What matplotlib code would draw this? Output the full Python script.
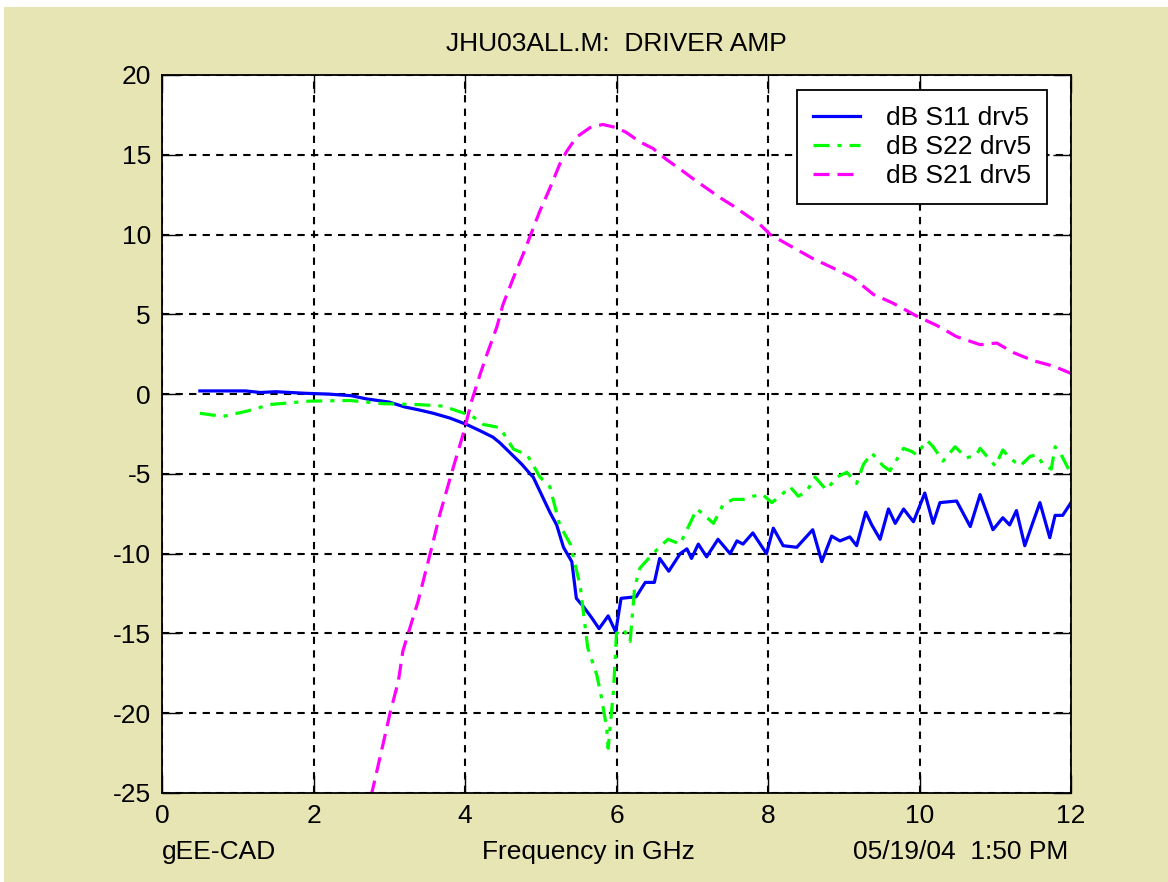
import matplotlib
matplotlib.use("Agg")
import matplotlib.pyplot as plt
from matplotlib.patches import Rectangle

plt.rcParams['font.family'] = ['Liberation Sans', 'DejaVu Sans']
plt.rcParams['axes.unicode_minus'] = False

# dB S11 drv5
s11_freq = [0.5, 0.8, 1.1, 1.3, 1.5, 1.7, 1.9, 2.2, 2.5, 2.7, 3.0, 3.2, 3.4, 3.58, 3.8,
            4.02, 4.2, 4.37, 4.46, 4.6, 4.75, 4.86, 4.9, 5.03, 5.12, 5.21, 5.3, 5.41, 5.47,
            5.56, 5.67, 5.77, 5.89, 5.99, 6.06, 6.26, 6.38, 6.5, 6.57, 6.69, 6.84, 6.93,
            6.99, 7.08, 7.19, 7.34, 7.5, 7.59, 7.67, 7.8, 7.98, 8.07, 8.2, 8.38, 8.59, 8.71,
            8.84, 8.95, 9.08, 9.17, 9.29, 9.37, 9.48, 9.59, 9.68, 9.79, 9.92, 10.07, 10.18,
            10.27, 10.49, 10.67, 10.8, 10.97, 11.1, 11.19, 11.28, 11.39, 11.5, 11.59, 11.72,
            11.79, 11.89, 12.0]
s11_db = [0.2, 0.2, 0.2, 0.1, 0.15, 0.1, 0.05, 0.0, -0.1, -0.3, -0.5, -0.8, -1.0, -1.2, -1.5,
          -1.9, -2.3, -2.7, -3.05, -3.7, -4.4, -5.0, -5.2, -6.5, -7.4, -8.2, -9.6, -10.5, -12.8,
          -13.3, -14.0, -14.7, -13.9, -14.9, -12.8, -12.7, -11.8, -11.8, -10.3, -11.1, -10.0, -9.7,
          -10.3, -9.4, -10.2, -9.1, -10.0, -9.2, -9.4, -8.7, -10.0, -8.4, -9.5, -9.6, -8.5, -10.5,
          -8.9, -9.2, -8.95, -9.5, -7.4, -8.2, -9.1, -7.2, -8.1, -7.2, -8.0, -6.2, -8.1,
          -6.8, -6.7, -8.3, -6.3, -8.5, -7.75, -8.2, -7.3, -9.5, -8.0, -6.8, -9.0,
          -7.6, -7.6, -6.8]

# dB S22 drv5
s22_freq = [0.5, 0.8, 1.12, 1.43, 1.95, 2.48, 2.92, 3.36, 3.71, 3.97, 4.1, 4.24, 4.46, 4.64,
            4.82, 4.99, 5.12, 5.25, 5.39, 5.52, 5.62, 5.74, 5.8, 5.87, 5.89, 5.96, 6.0, 6.09,
            6.18, 6.24, 6.31, 6.48, 6.61, 6.68, 6.84, 6.97, 7.06, 7.14, 7.28, 7.41, 7.54, 7.67,
            7.8, 7.93, 8.05, 8.16, 8.29, 8.4, 8.51, 8.62, 8.77, 8.91, 9.04, 9.17, 9.26, 9.37,
            9.52, 9.61, 9.79, 9.9, 9.96, 10.1, 10.18, 10.31, 10.47, 10.62, 10.75, 10.8, 10.89,
            11.0, 11.1, 11.19, 11.33, 11.46, 11.55, 11.63, 11.74, 11.79, 11.87, 12.0]
s22_db = [-1.2, -1.4, -1.07, -0.65, -0.44, -0.4, -0.6, -0.65, -0.75, -1.17, -1.4, -1.9, -2.1, -3.45,
          -3.8, -5.2, -5.8, -8.2, -9.4, -12.0, -15.9, -17.6, -19.0, -20.9, -22.2, -18.6, -15.0, -14.7,
          -15.5, -12.1, -10.9, -10.0, -9.4, -9.1, -9.4, -8.1, -7.2, -7.5, -8.1, -6.9, -6.6, -6.6,
          -6.4, -6.3, -6.8, -6.4, -5.8, -6.4, -6.1, -5.2, -6.0, -5.2, -4.9, -5.6, -4.4, -3.7,
          -4.5, -4.8, -3.4, -3.6, -3.8, -2.9, -3.3, -4.2, -3.3, -4.0, -3.8, -3.4, -3.9,
          -4.5, -3.5, -4.0, -4.5, -3.9, -3.8, -4.4, -4.7, -3.3, -3.8, -5.0]

# dB S21 drv5
s21_freq = [2.76, 2.92, 3.01, 3.12, 3.18, 3.25, 3.38, 3.54, 3.67, 3.82, 3.97, 4.09, 4.2, 4.29,
            4.42, 4.5, 4.64, 4.77, 4.86, 4.99, 5.12, 5.25, 5.34, 5.47, 5.65, 5.82, 6.0, 6.13,
            6.31, 6.48, 6.66, 6.84, 7.01, 7.19, 7.37, 7.54, 7.72, 7.89, 8.03, 8.29, 8.59, 8.86,
            9.12, 9.39, 9.65, 9.96, 10.23, 10.49, 10.8, 11.02, 11.24, 11.5, 11.77, 12.0]
s21_db = [-25.2, -21.9, -20.0, -18.0, -16.1, -15.0, -13.0, -10.0, -7.5, -5.0, -2.6, -0.4, 1.25, 2.5,
          4.2, 5.6, 7.3, 8.8, 9.9, 11.5, 12.9, 14.4, 15.2, 16.1, 16.7, 16.9, 16.7, 16.4,
          15.8, 15.4, 14.7, 14.1, 13.5, 12.9, 12.3, 11.8, 11.2, 10.65, 10.0, 9.3, 8.5, 7.9,
          7.3, 6.25, 5.7, 4.9, 4.3, 3.6, 3.1, 3.2, 2.6, 2.1, 1.75, 1.3]

x_ticks = [0, 2, 4, 6, 8, 10, 12]
y_ticks = [-25, -20, -15, -10, -5, 0, 5, 10, 15, 20]

W, H = 1168, 882
beige = '#e8e5b4'
fs = 19
fig = plt.figure(figsize=(W / 100, H / 100), dpi=100, facecolor=beige)

# thin white border strips along top and left edge
fig.patches.append(Rectangle((0, 1 - 7 / H), 1, 7 / H, transform=fig.transFigure,
                             facecolor='white', edgecolor='none'))
fig.patches.append(Rectangle((0, 0), 4 / W, 1, transform=fig.transFigure,
                             facecolor='white', edgecolor='none'))

ax = fig.add_axes([162 / W, 1 - 793 / H, (1071 - 162) / W, (793 - 75) / H])
ax.set_facecolor('white')

ax.plot(s11_freq, s11_db, color='#0000ff', lw=2.3, ls='-', label='dB S11 drv5')
ax.plot(s22_freq, s22_db, color='#00ff00', lw=2.3, ls=(0, (5, 2.5, 1.3, 2.5)), label='dB S22 drv5')
ax.plot(s21_freq, s21_db, color='#ff00ff', lw=2.3, ls=(0, (5, 2.5)), label='dB S21 drv5')

ax.set_xlim(0, 12)
ax.set_ylim(-25, 20)
ax.set_xticks(x_ticks)
ax.set_yticks(y_ticks)
ax.tick_params(direction='in', length=13, width=1, top=True, right=True,
               labelsize=fs, pad=8, colors='black')
ax.grid(True, color='black', ls=(0, (3.5, 3)), lw=1.5)
for sp in ax.spines.values():
    sp.set_linewidth(1.3)

ax.set_title('JHU03ALL.M:  DRIVER AMP', fontsize=fs, pad=17)

leg = ax.legend(loc='upper right', bbox_to_anchor=(0.974, 0.979), borderaxespad=0,
                fontsize=fs, handlelength=1.8, handletextpad=1.0, labelspacing=0.2,
                borderpad=0.6, fancybox=False, framealpha=1, edgecolor='black')
leg.get_frame().set_linewidth(1.3)

fig.text(162 / W, 1 - 852 / H, 'gEE-CAD', ha='left', va='center', fontsize=fs)
fig.text(588 / W, 1 - 852 / H, 'Frequency in GHz', ha='center', va='center', fontsize=fs)
fig.text(1068 / W, 1 - 852 / H, '05/19/04  1:50 PM', ha='right', va='center', fontsize=fs)

fig.savefig('out.png', dpi=100, facecolor=beige)
